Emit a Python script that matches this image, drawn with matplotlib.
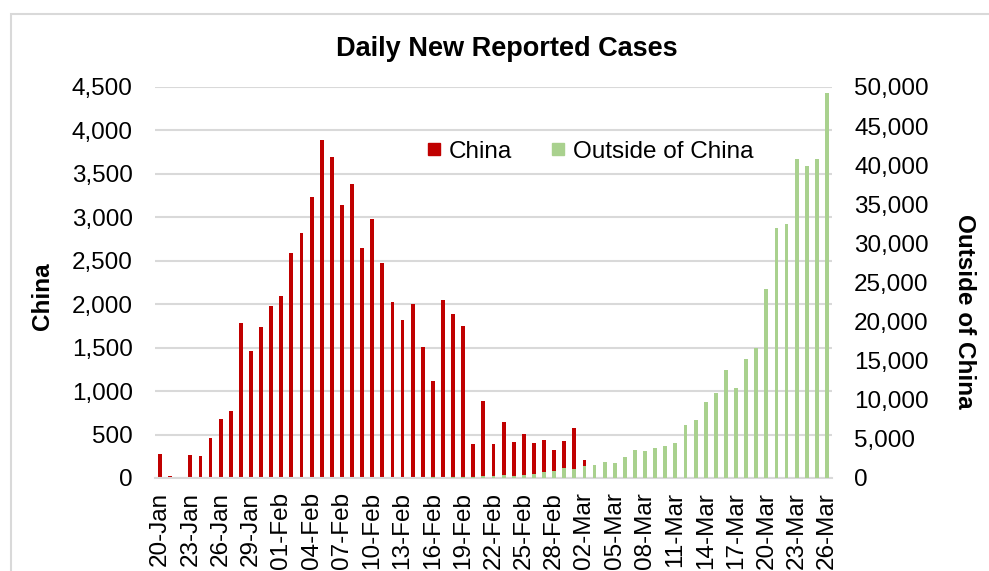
import matplotlib
matplotlib.use("Agg")
import matplotlib.pyplot as plt
from matplotlib.lines import Line2D
from matplotlib.patches import Rectangle
from matplotlib.ticker import FuncFormatter, MultipleLocator
import numpy as np
import pandas as pd

plt.rcParams['font.family'] = ['Liberation Sans', 'DejaVu Sans']

dates = pd.date_range('2020-01-20', '2020-03-26', freq='D')
labels = [d.strftime('%d-%b') for d in dates]

china = [278, 25, 0, 259, 257, 460, 680, 770, 1780, 1460, 1740, 1980,
         2100, 2590, 2825, 3235, 3887, 3694, 3143, 3385, 2652, 2984, 2473, 2022,
         1820, 1998, 1506, 1120, 2048, 1886, 1749, 394, 889, 397, 648, 409, 508,
         406, 433, 327, 427,
         573, 206, 119, 115, 143, 99, 44, 40, 19, 24, 15, 8, 11, 20, 16, 21, 39,
         41, 46, 47, 78, 46, 67, 54, 67, 121]

outside = [3, 1, 1, 3, 6, 11, 9, 8, 19, 8, 14, 24,
           16, 14, 7, 21, 13, 25, 55, 14, 31, 11, 7, 52, 47, 19, 21, 70, 31, 100,
           91, 131, 193, 226, 384, 300, 384, 512, 811, 939, 1238,
           1110, 1537, 1665, 2092, 1920, 2690, 3587, 3459, 3886, 4056, 4526, 6832,
           7430, 9693, 10931, 13792, 11529, 15159, 16568, 24168, 31940, 32537,
           40736, 39839, 40736, 49276]

red = '#C00000'
green = '#A9D18E'
grid = '#D9D9D9'

W, H = 989, 571
fig = plt.figure(figsize=(W / 100, H / 100), dpi=100)
fig.patch.set_facecolor('white')
fig.patches.append(Rectangle((11 / W, -0.1), 1.2, 1 - 14 / H + 0.1, transform=fig.transFigure,
                             fill=False, edgecolor=grid, linewidth=1.5))

ax = fig.add_axes([155 / W, 1 - 478 / H, (832 - 155) / W, (478 - 87) / H])
x = np.arange(len(labels))
ax.bar(x, china, width=0.38, color=red, zorder=2)
ax.set_xlim(-0.5, len(labels) - 0.5)
ax.set_ylim(0, 4500)
ax.yaxis.set_major_locator(MultipleLocator(500))
ax.yaxis.set_major_formatter(FuncFormatter(lambda v, p: f'{int(v):,}'))
ax.grid(axis='y', color=grid, linewidth=1.5, zorder=0)
ax.set_axisbelow(True)
for s in ['top', 'left', 'right']:
    ax.spines[s].set_visible(False)
ax.spines['bottom'].set_color(grid)
ax.spines['bottom'].set_linewidth(1.5)
ax.set_xticks(x[::3])
ax.set_xticklabels(labels[::3], rotation=90, fontsize=17.5)
ax.tick_params(axis='x', length=0, pad=10)
ax.tick_params(axis='y', length=0, pad=16, labelsize=17.5)

ax2 = ax.twinx()
ax2.bar(x, outside, width=0.38, color=green, zorder=3)
ax2.set_ylim(0, 50000)
ax2.yaxis.set_major_locator(MultipleLocator(5000))
ax2.yaxis.set_major_formatter(FuncFormatter(lambda v, p: f'{int(v):,}'))
for s in ['top', 'left', 'right', 'bottom']:
    ax2.spines[s].set_visible(False)
ax2.tick_params(axis='y', length=0, pad=16, labelsize=17.5)

fig.text(507 / W, 1 - 49 / H, 'Daily New Reported Cases', ha='center', va='center',
         fontsize=19.5, fontweight='bold')
fig.text(42 / W, 1 - 296 / H, 'China', ha='center', va='center', rotation=90,
         fontsize=17.5, fontweight='bold')
fig.text(965 / W, 1 - 311 / H, 'Outside of China', ha='center', va='center', rotation=-90,
         fontsize=17.5, fontweight='bold')

handles = [Line2D([], [], marker='s', linestyle='none', color=red, markersize=8),
           Line2D([], [], marker='s', linestyle='none', color=green, markersize=8)]
fig.legend(handles, ['China', 'Outside of China'], loc='center', ncol=2,
           bbox_to_anchor=(590 / W, 1 - 152 / H), frameon=False, fontsize=17.5,
           handlelength=0.6, handletextpad=0.3, columnspacing=1.6)

fig.savefig('out.png', dpi=100)
